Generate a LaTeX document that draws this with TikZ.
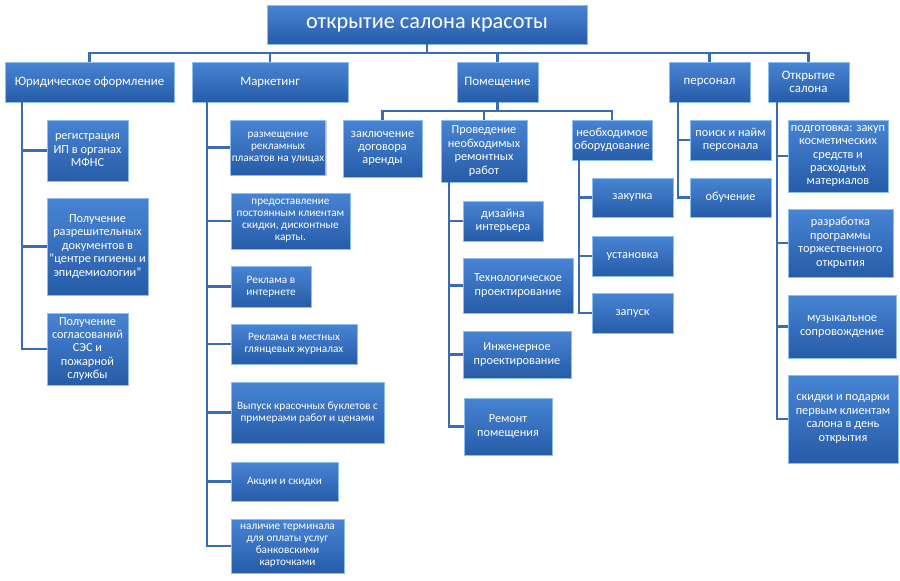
\documentclass[tikz,border=0pt]{standalone}
\usepackage{fontspec}
\setmainfont{Carlito}
\usetikzlibrary{shadows}
\definecolor{boxtop}{RGB}{72,132,212}
\definecolor{boxbot}{RGB}{38,92,168}
\definecolor{boxedge}{RGB}{140,190,240}
\definecolor{linkblue}{RGB}{58,108,180}

\begin{document}
\begin{tikzpicture}[x=0.03cm, y=-0.03cm,
    box/.style={draw=boxedge, line width=0.7pt, top color=boxtop, bottom color=boxbot,
        text=white, align=center, inner sep=1pt,
        drop shadow={shadow xshift=1.2pt, shadow yshift=-1.2pt, opacity=0.35}},
    sz/.style 2 args={minimum width=#1*0.03cm, minimum height=#2*0.03cm},
    big/.style={font=\fontsize{11}{11.5}\selectfont},
    mid/.style={font=\fontsize{10.5}{11.5}\selectfont},
    small/.style={font=\fontsize{9.6}{10.3}\selectfont},
    link/.style={draw=linkblue, line width=1.8pt}]
    \useasboundingbox (0,0) rectangle (900,580);
    \fill[white] (0,0) rectangle (900,580);

    \node[box, sz={320}{39}, font=\fontsize{19}{21}\selectfont] (title) at (427,24.5) {открытие салона красоты};

    \node[box, big, sz={169}{40}] (jur) at (89.5,82) {Юридическое оформление};
    \node[box, big, sz={156}{40}] (mark) at (270,82) {Маркетинг};
    \node[box, big, sz={81}{40}] (pom) at (497.5,82) {Помещение};
    \node[box, big, sz={81}{40}] (pers) at (709.5,82) {персонал};
    \node[box, big, sz={81}{40}] (open) at (808.5,82) {Открытие\\салона};

    \node[box, mid, sz={81}{61}] (reg) at (87.5,150.5) {регистрация\\ИП в органах\\МФНС};
    \node[box, mid, sz={101}{97}] (razr) at (97.5,246.5) {Получение\\разрешительных\\документов в\\"центре гигиены и\\эпидемиологии"};
    \node[box, mid, sz={81}{72}] (sogl) at (87.5,349) {Получение\\согласований\\СЭС и\\пожарной\\службы};

    \node[box, small, sz={94}{55}] (razm) at (278,147.5) {размещение\\рекламных\\плакатов на улицах};
    \node[box, small, sz={119}{56}] (pred) at (290.5,221) {предоставление\\постоянным клиентам\\скидки, дисконтные\\карты.};
    \node[box, small, sz={80}{41}] (inet) at (271,286.5) {Реклама в\\интернете};
    \node[box, small, sz={126}{40}] (zhur) at (294,344) {Реклама в местных\\глянцевых журналах};
    \node[box, small, sz={153}{61}] (bukl) at (307.5,412.5) {Выпуск красочных буклетов с\\примерами работ и ценами};
    \node[box, small, sz={107}{39}] (akc) at (284.5,481.5) {Акции и скидки};
    \node[box, small, sz={113}{54}] (term) at (287.5,546) {наличие терминала\\для оплаты услуг\\банковскими\\карточками};

    \node[box, mid, sz={79}{57}] (zakl) at (382.5,148.5) {заключение\\договора\\аренды};
    \node[box, mid, sz={86}{62}] (prov) at (484,151) {Проведение\\необходимых\\ремонтных\\работ};
    \node[box, mid, sz={80}{40}] (obor) at (612,140) {необходимое\\оборудование};

    \node[box, mid, sz={80}{40}] (diz) at (503,221) {дизайна\\интерьера};
    \node[box, mid, sz={110}{55}] (tech) at (518,285.5) {Технологическое\\проектирование};
    \node[box, mid, sz={108}{47}] (inzh) at (517,354.5) {Инженерное\\проектирование};
    \node[box, mid, sz={88}{57}] (rem) at (508,426.5) {Ремонт\\помещения};

    \node[box, mid, sz={81}{39}] (zak) at (632.5,197.5) {закупка};
    \node[box, mid, sz={81}{40}] (ust) at (632.5,256) {установка};
    \node[box, mid, sz={81}{40}] (zap) at (632.5,313) {запуск};

    \node[box, mid, sz={81}{40}] (poisk) at (730.5,140) {поиск и найм\\персонала};
    \node[box, mid, sz={81}{39}] (obuch) at (730.5,197.5) {обучение};

    \node[box, mid, sz={100}{72}] (podg) at (838,156) {подготовка: закуп\\косметических\\средств и\\расходных\\материалов};
    \node[box, mid, sz={105}{68}] (razrab) at (840.5,243) {разработка\\программы\\торжественного\\открытия};
    \node[box, mid, sz={108}{63}] (muz) at (842,326.5) {музыкальное\\сопровождение};
    \node[box, mid, sz={110}{88}] (skid) at (843,419) {скидки и подарки\\первым клиентам\\салона в день\\открытия};

    \draw[link] (title.south) -- ++(0,9);
    \draw[link] (jur.north) -- ++(0,-9) -| (open.north);
    \foreach \n in {mark,pom,pers}
        \draw[link] (\n.north) -- ++(0,-9);

    \draw[link] (pom.south) -- ++(0,9);
    \draw[link] (zakl.north) -- ++(0,-9) -| (obor.north);
    \draw[link] (prov.north) -- ++(0,-9);

    \coordinate (jt) at (22,102);
    \coordinate (mt) at (207,102);
    \coordinate (pt) at (449,182);
    \coordinate (ot) at (579,160);
    \coordinate (st) at (678,102);
    \coordinate (tt) at (777,102);
    \foreach \n in {reg,razr,sogl}
        \draw[link] (jt) |- (\n.west);
    \foreach \n in {razm,pred,inet,zhur,bukl,akc,term}
        \draw[link] (mt) |- (\n.west);
    \foreach \n in {diz,tech,inzh,rem}
        \draw[link] (pt) |- (\n.west);
    \foreach \n in {zak,ust,zap}
        \draw[link] (ot) |- (\n.west);
    \foreach \n in {poisk,obuch}
        \draw[link] (st) |- (\n.west);
    \foreach \n in {podg,razrab,muz,skid}
        \draw[link] (tt) |- (\n.west);
\end{tikzpicture}
\end{document}
